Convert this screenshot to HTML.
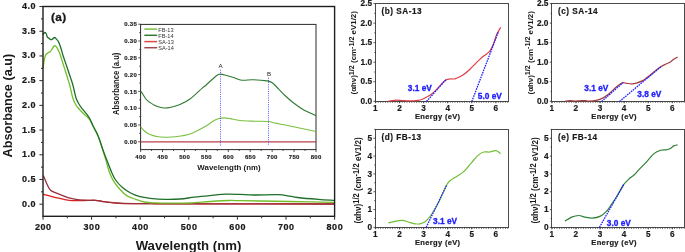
<!DOCTYPE html>
<html><head><meta charset="utf-8"><style>
html,body{margin:0;padding:0;background:#fff;}
body{width:685px;height:252px;overflow:hidden;}
svg{display:block;will-change:transform;}
text{font-family:"Liberation Sans",sans-serif;}
</style></head><body>
<svg width="685" height="252" viewBox="0 0 685 252">
<rect width="685" height="252" fill="#fff"/>
<g fill="none" stroke-width="1.3" stroke-linejoin="round" stroke-linecap="round">
<path d="M43.40,194.30 C44.55,194.60 47.75,195.45 50.30,196.10 C52.85,196.75 56.08,197.58 58.70,198.20 C61.32,198.82 63.78,199.40 66.00,199.80 C68.22,200.20 69.67,200.47 72.00,200.60 C74.33,200.73 77.33,200.63 80.00,200.60 C82.67,200.57 85.43,200.45 88.00,200.40 C90.57,200.35 93.07,200.15 95.40,200.30 C97.73,200.45 99.65,200.95 102.00,201.30 C104.35,201.65 106.60,202.07 109.50,202.40 C112.40,202.73 114.32,203.08 119.40,203.30 C124.48,203.52 126.57,203.60 140.00,203.70 C153.43,203.80 167.67,203.85 200.00,203.90 C232.33,203.95 311.67,203.98 334.00,204.00" stroke="#dc2020"/>
<path d="M43.40,175.80 C43.63,176.33 44.22,177.65 44.80,179.00 C45.38,180.35 46.22,182.40 46.90,183.90 C47.58,185.40 48.22,186.88 48.90,188.00 C49.58,189.12 49.83,189.78 51.00,190.60 C52.17,191.42 53.93,192.05 55.90,192.90 C57.87,193.75 60.45,194.83 62.80,195.70 C65.15,196.57 67.18,197.42 70.00,198.10 C72.82,198.78 76.70,199.42 79.70,199.80 C82.70,200.18 85.35,200.30 88.00,200.40 C90.65,200.50 93.27,200.25 95.60,200.40 C97.93,200.55 99.68,200.97 102.00,201.30 C104.32,201.63 105.95,202.07 109.50,202.40 C113.05,202.73 116.55,203.08 123.30,203.30 C130.05,203.52 137.22,203.60 150.00,203.70 C162.78,203.80 169.33,203.85 200.00,203.90 C230.67,203.95 311.67,203.98 334.00,204.00" stroke="#98303c"/>
<path d="M43.10,67.80 C43.27,66.63 43.70,62.88 44.10,60.80 C44.50,58.72 44.92,56.57 45.50,55.30 C46.08,54.03 46.80,53.85 47.60,53.20 C48.40,52.55 49.62,51.98 50.30,51.40 C50.98,50.82 51.12,50.55 51.70,49.70 C52.28,48.85 53.22,46.95 53.80,46.30 C54.38,45.65 54.67,45.58 55.20,45.80 C55.73,46.02 56.30,46.48 57.00,47.60 C57.70,48.72 58.80,51.10 59.40,52.50 C60.00,53.90 59.90,53.83 60.60,56.00 C61.30,58.17 62.60,62.33 63.60,65.50 C64.60,68.67 65.63,71.92 66.60,75.00 C67.57,78.08 68.65,81.33 69.40,84.00 C70.15,86.67 70.52,88.62 71.10,91.00 C71.68,93.38 72.22,96.17 72.90,98.30 C73.58,100.43 74.30,102.13 75.20,103.80 C76.10,105.47 76.60,106.37 78.30,108.30 C80.00,110.23 83.52,113.53 85.40,115.40 C87.28,117.27 88.37,117.78 89.60,119.50 C90.83,121.22 91.35,122.88 92.80,125.70 C94.25,128.52 96.80,132.85 98.30,136.40 C99.80,139.95 100.48,142.88 101.80,147.00 C103.12,151.12 104.93,156.90 106.20,161.10 C107.47,165.30 108.17,168.87 109.40,172.20 C110.63,175.53 111.75,178.13 113.60,181.10 C115.45,184.07 118.32,187.58 120.50,190.00 C122.68,192.42 124.18,194.05 126.70,195.60 C129.22,197.15 132.65,198.23 135.60,199.30 C138.55,200.37 141.17,201.40 144.40,202.00 C147.63,202.60 150.73,202.70 155.00,202.90 C159.27,203.10 164.17,203.18 170.00,203.20 C175.83,203.22 183.28,203.28 190.00,203.00 C196.72,202.72 203.72,201.92 210.30,201.50 C216.88,201.08 224.55,200.63 229.50,200.50 C234.45,200.37 234.92,200.62 240.00,200.70 C245.08,200.78 251.67,200.87 260.00,201.00 C268.33,201.13 277.75,201.27 290.00,201.50 C302.25,201.73 326.25,202.25 333.50,202.40" stroke="#72bf2a"/>
<path d="M43.00,34.00 C43.33,33.75 44.47,32.55 45.00,32.50 C45.53,32.45 45.80,32.90 46.20,33.70 C46.60,34.50 47.02,36.60 47.40,37.30 C47.78,38.00 47.92,37.50 48.50,37.90 C49.08,38.30 50.20,39.53 50.90,39.70 C51.60,39.87 52.10,39.27 52.70,38.90 C53.30,38.53 53.90,37.50 54.50,37.50 C55.10,37.50 55.60,38.13 56.30,38.90 C57.00,39.67 57.87,40.33 58.70,42.10 C59.53,43.87 60.55,47.18 61.30,49.50 C62.05,51.82 62.35,53.35 63.20,56.00 C64.05,58.65 65.33,62.23 66.40,65.40 C67.47,68.57 68.57,71.90 69.60,75.00 C70.63,78.10 71.82,81.33 72.60,84.00 C73.38,86.67 73.72,88.62 74.30,91.00 C74.88,93.38 75.38,96.22 76.10,98.30 C76.82,100.38 77.63,101.83 78.60,103.50 C79.57,105.17 80.40,106.32 81.90,108.30 C83.40,110.28 86.22,113.53 87.60,115.40 C88.98,117.27 89.30,117.78 90.20,119.50 C91.10,121.22 91.65,122.88 93.00,125.70 C94.35,128.52 96.63,132.35 98.30,136.40 C99.97,140.45 101.52,145.88 103.00,150.00 C104.48,154.12 105.77,157.40 107.20,161.10 C108.63,164.80 110.20,169.05 111.60,172.20 C113.00,175.35 113.83,177.48 115.60,180.00 C117.37,182.52 119.62,185.08 122.20,187.30 C124.78,189.52 128.13,191.73 131.10,193.30 C134.07,194.87 136.85,195.87 140.00,196.70 C143.15,197.53 145.78,197.85 150.00,198.30 C154.22,198.75 160.30,199.28 165.30,199.40 C170.30,199.52 175.18,199.37 180.00,199.00 C184.82,198.63 189.20,197.77 194.20,197.20 C199.20,196.63 204.65,196.10 210.00,195.60 C215.35,195.10 221.30,194.40 226.30,194.20 C231.30,194.00 235.38,194.27 240.00,194.40 C244.62,194.53 247.67,194.95 254.00,195.00 C260.33,195.05 272.00,194.50 278.00,194.70 C284.00,194.90 286.77,195.73 290.00,196.20 C293.23,196.67 292.68,196.97 297.40,197.50 C302.12,198.03 312.28,198.92 318.30,199.40 C324.32,199.88 330.97,200.23 333.50,200.40" stroke="#1f6f2a"/>
</g>
<rect x="43" y="6.5" width="291.6" height="209.8" fill="none" stroke="#1e1e1e" stroke-width="1.4"/>
<path d="M43,204.20h-3.6 M43,191.84h-2 M43,179.49h-3.6 M43,167.13h-2 M43,154.78h-3.6 M43,142.42h-2 M43,130.07h-3.6 M43,117.71h-2 M43,105.36h-3.6 M43,93.00h-2 M43,80.65h-3.6 M43,68.29h-2 M43,55.94h-3.6 M43,43.58h-2 M43,31.23h-3.6 M43,18.87h-2 M43,6.52h-3.6 M43.00,216.3v3.4 M67.30,216.3v2 M91.60,216.3v3.4 M115.90,216.3v2 M140.20,216.3v3.4 M164.50,216.3v2 M188.80,216.3v3.4 M213.10,216.3v2 M237.40,216.3v3.4 M261.70,216.3v2 M286.00,216.3v3.4 M310.30,216.3v2 M334.60,216.3v3.4" stroke="#2b2b2b" stroke-width="1"/>
<text x="36.1" y="206.70" font-family="Liberation Sans" font-weight="bold" font-size="9" letter-spacing="0.55" text-anchor="end" fill="#1a1a1a" stroke="#1a1a1a" stroke-width="0.22">0.0</text>
<text x="36.1" y="181.99" font-family="Liberation Sans" font-weight="bold" font-size="9" letter-spacing="0.55" text-anchor="end" fill="#1a1a1a" stroke="#1a1a1a" stroke-width="0.22">0.5</text>
<text x="36.1" y="157.28" font-family="Liberation Sans" font-weight="bold" font-size="9" letter-spacing="0.55" text-anchor="end" fill="#1a1a1a" stroke="#1a1a1a" stroke-width="0.22">1.0</text>
<text x="36.1" y="132.57" font-family="Liberation Sans" font-weight="bold" font-size="9" letter-spacing="0.55" text-anchor="end" fill="#1a1a1a" stroke="#1a1a1a" stroke-width="0.22">1.5</text>
<text x="36.1" y="107.86" font-family="Liberation Sans" font-weight="bold" font-size="9" letter-spacing="0.55" text-anchor="end" fill="#1a1a1a" stroke="#1a1a1a" stroke-width="0.22">2.0</text>
<text x="36.1" y="83.15" font-family="Liberation Sans" font-weight="bold" font-size="9" letter-spacing="0.55" text-anchor="end" fill="#1a1a1a" stroke="#1a1a1a" stroke-width="0.22">2.5</text>
<text x="36.1" y="58.44" font-family="Liberation Sans" font-weight="bold" font-size="9" letter-spacing="0.55" text-anchor="end" fill="#1a1a1a" stroke="#1a1a1a" stroke-width="0.22">3.0</text>
<text x="36.1" y="33.73" font-family="Liberation Sans" font-weight="bold" font-size="9" letter-spacing="0.55" text-anchor="end" fill="#1a1a1a" stroke="#1a1a1a" stroke-width="0.22">3.5</text>
<text x="36.1" y="9.02" font-family="Liberation Sans" font-weight="bold" font-size="9" letter-spacing="0.55" text-anchor="end" fill="#1a1a1a" stroke="#1a1a1a" stroke-width="0.22">4.0</text>
<text x="43.30" y="229.9" font-family="Liberation Sans" font-weight="bold" font-size="9" letter-spacing="0.6" text-anchor="middle" fill="#1a1a1a" stroke="#1a1a1a" stroke-width="0.22">200</text>
<text x="91.90" y="229.9" font-family="Liberation Sans" font-weight="bold" font-size="9" letter-spacing="0.6" text-anchor="middle" fill="#1a1a1a" stroke="#1a1a1a" stroke-width="0.22">300</text>
<text x="140.50" y="229.9" font-family="Liberation Sans" font-weight="bold" font-size="9" letter-spacing="0.6" text-anchor="middle" fill="#1a1a1a" stroke="#1a1a1a" stroke-width="0.22">400</text>
<text x="189.10" y="229.9" font-family="Liberation Sans" font-weight="bold" font-size="9" letter-spacing="0.6" text-anchor="middle" fill="#1a1a1a" stroke="#1a1a1a" stroke-width="0.22">500</text>
<text x="237.70" y="229.9" font-family="Liberation Sans" font-weight="bold" font-size="9" letter-spacing="0.6" text-anchor="middle" fill="#1a1a1a" stroke="#1a1a1a" stroke-width="0.22">600</text>
<text x="286.30" y="229.9" font-family="Liberation Sans" font-weight="bold" font-size="9" letter-spacing="0.6" text-anchor="middle" fill="#1a1a1a" stroke="#1a1a1a" stroke-width="0.22">700</text>
<text x="334.90" y="229.9" font-family="Liberation Sans" font-weight="bold" font-size="9" letter-spacing="0.6" text-anchor="middle" fill="#1a1a1a" stroke="#1a1a1a" stroke-width="0.22">800</text>
<text x="188.5" y="249.9" font-family="Liberation Sans" font-weight="bold" font-size="13.2" text-anchor="middle" fill="#1a1a1a">Wavelength (nm)</text>
<text transform="translate(11.7,105.6) rotate(-90)" font-family="Liberation Sans" font-weight="bold" font-size="12.7" text-anchor="middle" fill="#1a1a1a">Absorbance (a.u)</text>
<text x="51.1" y="21.0" font-family="Liberation Sans" font-weight="bold" font-size="11.8" letter-spacing="0.3" fill="#1a1a1a" stroke="#1a1a1a" stroke-width="0.3">(a)</text>
<rect x="140.6" y="24.4" width="175.4" height="125.19999999999999" fill="#fff" stroke="#2b2b2b" stroke-width="1"/>
<path d="M140.6,141.80h-2.4 M140.6,133.40h-1.4 M140.6,125.00h-2.4 M140.6,116.60h-1.4 M140.6,108.20h-2.4 M140.6,99.80h-1.4 M140.6,91.40h-2.4 M140.6,83.00h-1.4 M140.6,74.60h-2.4 M140.6,66.20h-1.4 M140.6,57.80h-2.4 M140.6,49.40h-1.4 M140.6,41.00h-2.4 M140.6,32.60h-1.4 M140.6,24.20h-2.4 M140.60,149.6v2.4 M151.56,149.6v1.4 M162.53,149.6v2.4 M173.49,149.6v1.4 M184.45,149.6v2.4 M195.41,149.6v1.4 M206.38,149.6v2.4 M217.34,149.6v1.4 M228.30,149.6v2.4 M239.26,149.6v1.4 M250.22,149.6v2.4 M261.19,149.6v1.4 M272.15,149.6v2.4 M283.11,149.6v1.4 M294.07,149.6v2.4 M305.04,149.6v1.4 M316.00,149.6v2.4" stroke="#2b2b2b" stroke-width="0.8"/>
<text x="137.1" y="143.90" font-family="Liberation Sans" font-weight="bold" font-size="6" letter-spacing="0.3" text-anchor="end" fill="#1a1a1a" stroke="#1a1a1a" stroke-width="0.15">0.00</text>
<text x="137.1" y="127.10" font-family="Liberation Sans" font-weight="bold" font-size="6" letter-spacing="0.3" text-anchor="end" fill="#1a1a1a" stroke="#1a1a1a" stroke-width="0.15">0.05</text>
<text x="137.1" y="110.30" font-family="Liberation Sans" font-weight="bold" font-size="6" letter-spacing="0.3" text-anchor="end" fill="#1a1a1a" stroke="#1a1a1a" stroke-width="0.15">0.10</text>
<text x="137.1" y="93.50" font-family="Liberation Sans" font-weight="bold" font-size="6" letter-spacing="0.3" text-anchor="end" fill="#1a1a1a" stroke="#1a1a1a" stroke-width="0.15">0.15</text>
<text x="137.1" y="76.70" font-family="Liberation Sans" font-weight="bold" font-size="6" letter-spacing="0.3" text-anchor="end" fill="#1a1a1a" stroke="#1a1a1a" stroke-width="0.15">0.20</text>
<text x="137.1" y="59.90" font-family="Liberation Sans" font-weight="bold" font-size="6" letter-spacing="0.3" text-anchor="end" fill="#1a1a1a" stroke="#1a1a1a" stroke-width="0.15">0.25</text>
<text x="137.1" y="43.10" font-family="Liberation Sans" font-weight="bold" font-size="6" letter-spacing="0.3" text-anchor="end" fill="#1a1a1a" stroke="#1a1a1a" stroke-width="0.15">0.30</text>
<text x="137.1" y="26.30" font-family="Liberation Sans" font-weight="bold" font-size="6" letter-spacing="0.3" text-anchor="end" fill="#1a1a1a" stroke="#1a1a1a" stroke-width="0.15">0.35</text>
<text x="140.75" y="158.9" font-family="Liberation Sans" font-weight="bold" font-size="6" letter-spacing="0.3" text-anchor="middle" fill="#1a1a1a" stroke="#1a1a1a" stroke-width="0.15">400</text>
<text x="162.68" y="158.9" font-family="Liberation Sans" font-weight="bold" font-size="6" letter-spacing="0.3" text-anchor="middle" fill="#1a1a1a" stroke="#1a1a1a" stroke-width="0.15">450</text>
<text x="184.60" y="158.9" font-family="Liberation Sans" font-weight="bold" font-size="6" letter-spacing="0.3" text-anchor="middle" fill="#1a1a1a" stroke="#1a1a1a" stroke-width="0.15">500</text>
<text x="206.53" y="158.9" font-family="Liberation Sans" font-weight="bold" font-size="6" letter-spacing="0.3" text-anchor="middle" fill="#1a1a1a" stroke="#1a1a1a" stroke-width="0.15">550</text>
<text x="228.45" y="158.9" font-family="Liberation Sans" font-weight="bold" font-size="6" letter-spacing="0.3" text-anchor="middle" fill="#1a1a1a" stroke="#1a1a1a" stroke-width="0.15">600</text>
<text x="250.38" y="158.9" font-family="Liberation Sans" font-weight="bold" font-size="6" letter-spacing="0.3" text-anchor="middle" fill="#1a1a1a" stroke="#1a1a1a" stroke-width="0.15">650</text>
<text x="272.30" y="158.9" font-family="Liberation Sans" font-weight="bold" font-size="6" letter-spacing="0.3" text-anchor="middle" fill="#1a1a1a" stroke="#1a1a1a" stroke-width="0.15">700</text>
<text x="294.22" y="158.9" font-family="Liberation Sans" font-weight="bold" font-size="6" letter-spacing="0.3" text-anchor="middle" fill="#1a1a1a" stroke="#1a1a1a" stroke-width="0.15">750</text>
<text x="316.15" y="158.9" font-family="Liberation Sans" font-weight="bold" font-size="6" letter-spacing="0.3" text-anchor="middle" fill="#1a1a1a" stroke="#1a1a1a" stroke-width="0.15">800</text>
<text x="229" y="169.8" font-family="Liberation Sans" font-weight="bold" font-size="7.9" text-anchor="middle" fill="#1a1a1a">Wavelength (nm)</text>
<text transform="translate(119.3,114.9) rotate(-90)" font-family="Liberation Sans" font-weight="bold" font-size="8.4" textLength="62.3" lengthAdjust="spacingAndGlyphs" fill="#1a1a1a">Absorbance (a.u)</text>
<g fill="none" stroke-width="1.1" stroke-linecap="round">
<path d="M141,141.8 L316,141.8" stroke="#b8424c" stroke-width="1.3"/>
<path d="M141.00,127.20 C141.67,127.92 143.50,130.28 145.00,131.50 C146.50,132.72 147.83,133.62 150.00,134.50 C152.17,135.38 155.37,136.35 158.00,136.80 C160.63,137.25 162.97,137.20 165.80,137.20 C168.63,137.20 170.97,137.33 175.00,136.80 C179.03,136.27 185.00,135.70 190.00,134.00 C195.00,132.30 201.17,128.73 205.00,126.60 C208.83,124.47 210.67,122.55 213.00,121.20 C215.33,119.85 217.17,119.05 219.00,118.50 C220.83,117.95 222.17,117.88 224.00,117.90 C225.83,117.92 227.33,118.17 230.00,118.60 C232.67,119.03 235.83,120.07 240.00,120.50 C244.17,120.93 250.33,121.03 255.00,121.20 C259.67,121.37 264.67,121.20 268.00,121.50 C271.33,121.80 271.33,122.25 275.00,123.00 C278.67,123.75 283.17,124.58 290.00,126.00 C296.83,127.42 311.67,130.58 316.00,131.50" stroke="#79c040"/>
<path d="M141.00,91.50 C141.33,92.00 142.25,93.33 143.00,94.50 C143.75,95.67 144.75,97.48 145.50,98.50 C146.25,99.52 146.75,99.93 147.50,100.60 C148.25,101.27 148.75,101.68 150.00,102.50 C151.25,103.32 153.33,104.70 155.00,105.50 C156.67,106.30 158.43,106.88 160.00,107.30 C161.57,107.72 162.73,107.97 164.40,108.00 C166.07,108.03 167.40,108.08 170.00,107.50 C172.60,106.92 176.67,105.92 180.00,104.50 C183.33,103.08 186.33,101.70 190.00,99.00 C193.67,96.30 199.50,90.47 202.00,88.30 C204.50,86.13 203.40,87.38 205.00,86.00 C206.60,84.62 209.27,81.95 211.60,80.00 C213.93,78.05 216.50,75.05 219.00,74.30 C221.50,73.55 224.07,74.93 226.60,75.50 C229.13,76.07 231.67,76.92 234.20,77.70 C236.73,78.48 238.62,79.85 241.80,80.20 C244.98,80.55 249.07,79.68 253.30,79.80 C257.53,79.92 264.03,80.40 267.20,80.90 C270.37,81.40 270.38,81.43 272.30,82.80 C274.22,84.17 276.58,86.98 278.70,89.10 C280.82,91.22 282.62,93.27 285.00,95.50 C287.38,97.73 290.00,100.17 293.00,102.50 C296.00,104.83 299.25,107.33 303.00,109.50 C306.75,111.67 313.42,114.50 315.50,115.50" stroke="#2f7a30"/>
</g>
<path d="M220.5,69.7V145.8 M268.5,77.7V144.7" stroke="#3030ff" stroke-width="0.8" stroke-dasharray="1,1.2" fill="none"/>
<text x="220.5" y="68.3" font-family="Liberation Sans" font-size="6.2" text-anchor="middle" fill="#222">A</text>
<text x="269" y="75.9" font-family="Liberation Sans" font-size="6.2" text-anchor="middle" fill="#222">B</text>
<path d="M144.3,29.1H157.2" stroke="#79c040" stroke-width="1.5"/>
<text x="158.3" y="31.5" font-family="Liberation Sans" font-size="5.6" fill="#333">FB-13</text>
<path d="M144.3,35.3H157.2" stroke="#2f7a30" stroke-width="1.5"/>
<text x="158.3" y="37.7" font-family="Liberation Sans" font-size="5.6" fill="#333">FB-14</text>
<path d="M144.3,41.6H157.2" stroke="#e04848" stroke-width="1.5"/>
<text x="158.3" y="44.0" font-family="Liberation Sans" font-size="5.6" fill="#333">SA-13</text>
<path d="M144.3,47.7H157.2" stroke="#a04850" stroke-width="1.5"/>
<text x="158.3" y="50.1" font-family="Liberation Sans" font-size="5.6" fill="#333">SA-14</text>
<rect x="375.4" y="3.5999999999999943" width="133.2" height="97.7" fill="none" stroke="#4a4a4a" stroke-width="1.1" shape-rendering="crispEdges"/>
<path d="M375.4,101.30h-2 M375.4,81.76h-2 M375.4,62.22h-2 M375.4,42.68h-2 M375.4,23.14h-2 M375.4,3.60h-2 M375.4,91.53h-1.2 M375.4,71.99h-1.2 M375.4,52.45h-1.2 M375.4,32.91h-1.2 M375.4,13.37h-1.2 M375.40,101.3v2 M399.50,101.3v2 M423.60,101.3v2 M447.70,101.3v2 M471.80,101.3v2 M495.90,101.3v2" stroke="#333" stroke-width="0.8"/>
<path d="M375.4,102.2H508.59999999999997" stroke="#333" stroke-width="1" stroke-dasharray="0.8,1.6"/>
<text x="372.10" y="103.90" font-family="Liberation Sans" font-weight="bold" font-size="8.3" text-anchor="end" fill="#1a1a1a" stroke="#1a1a1a" stroke-width="0.18">0.0</text>
<text x="372.10" y="84.36" font-family="Liberation Sans" font-weight="bold" font-size="8.3" text-anchor="end" fill="#1a1a1a" stroke="#1a1a1a" stroke-width="0.18">0.5</text>
<text x="372.10" y="64.82" font-family="Liberation Sans" font-weight="bold" font-size="8.3" text-anchor="end" fill="#1a1a1a" stroke="#1a1a1a" stroke-width="0.18">1.0</text>
<text x="372.10" y="45.28" font-family="Liberation Sans" font-weight="bold" font-size="8.3" text-anchor="end" fill="#1a1a1a" stroke="#1a1a1a" stroke-width="0.18">1.5</text>
<text x="372.10" y="25.74" font-family="Liberation Sans" font-weight="bold" font-size="8.3" text-anchor="end" fill="#1a1a1a" stroke="#1a1a1a" stroke-width="0.18">2.0</text>
<text x="372.10" y="6.20" font-family="Liberation Sans" font-weight="bold" font-size="8.3" text-anchor="end" fill="#1a1a1a" stroke="#1a1a1a" stroke-width="0.18">2.5</text>
<text x="375.40" y="110.70" font-family="Liberation Sans" font-weight="bold" font-size="8.2" text-anchor="middle" fill="#1a1a1a" stroke="#1a1a1a" stroke-width="0.18">1</text>
<text x="399.50" y="110.70" font-family="Liberation Sans" font-weight="bold" font-size="8.2" text-anchor="middle" fill="#1a1a1a" stroke="#1a1a1a" stroke-width="0.18">2</text>
<text x="423.60" y="110.70" font-family="Liberation Sans" font-weight="bold" font-size="8.2" text-anchor="middle" fill="#1a1a1a" stroke="#1a1a1a" stroke-width="0.18">3</text>
<text x="447.70" y="110.70" font-family="Liberation Sans" font-weight="bold" font-size="8.2" text-anchor="middle" fill="#1a1a1a" stroke="#1a1a1a" stroke-width="0.18">4</text>
<text x="471.80" y="110.70" font-family="Liberation Sans" font-weight="bold" font-size="8.2" text-anchor="middle" fill="#1a1a1a" stroke="#1a1a1a" stroke-width="0.18">5</text>
<text x="495.90" y="110.70" font-family="Liberation Sans" font-weight="bold" font-size="8.2" text-anchor="middle" fill="#1a1a1a" stroke="#1a1a1a" stroke-width="0.18">6</text>
<text x="437.70" y="119.30" font-family="Liberation Sans" font-weight="bold" font-size="7.5" letter-spacing="0.35" text-anchor="middle" fill="#1a1a1a" stroke="#1a1a1a" stroke-width="0.2">Energy (eV)</text>
<text x="381.60" y="14.10" font-family="Liberation Sans" font-weight="bold" font-size="8.2" letter-spacing="0.5" fill="#1a1a1a" stroke="#1a1a1a" stroke-width="0.2">(b) SA-13</text>
<text transform="translate(355.80,94.50) rotate(-90)" font-family="Liberation Sans" font-weight="bold" font-size="7.8" textLength="83.4" lengthAdjust="spacingAndGlyphs" fill="#1a1a1a">(&#945;h&#957;)<tspan font-size="7.02" dy="-2.11">1/2</tspan><tspan dy="2.11"> (cm</tspan><tspan font-size="7.02" dy="-2.11">-1/2</tspan><tspan dy="2.11"> eV1/2)</tspan></text>
<path d="M388.30,101.20 C388.92,101.10 390.60,100.77 392.00,100.60 C393.40,100.43 395.03,100.22 396.70,100.20 C398.37,100.18 399.87,100.40 402.00,100.50 C404.13,100.60 407.17,100.78 409.50,100.80 C411.83,100.82 414.25,100.73 416.00,100.60 C417.75,100.47 418.75,100.30 420.00,100.00 C421.25,99.70 422.43,99.27 423.50,98.80 C424.57,98.33 425.13,97.92 426.40,97.20 C427.67,96.48 429.38,95.80 431.10,94.50 C432.82,93.20 434.85,91.28 436.70,89.40 C438.55,87.52 440.58,84.82 442.20,83.20 C443.82,81.58 445.10,80.40 446.40,79.70 C447.70,79.00 448.57,79.15 450.00,79.00 C451.43,78.85 453.35,79.17 455.00,78.80 C456.65,78.43 458.40,77.55 459.90,76.80 C461.40,76.05 462.32,75.57 464.00,74.30 C465.68,73.03 468.25,70.82 470.00,69.20 C471.75,67.58 472.87,66.23 474.50,64.60 C476.13,62.97 478.22,60.88 479.80,59.40 C481.38,57.92 482.53,56.87 484.00,55.70 C485.47,54.53 487.47,53.42 488.60,52.40 C489.73,51.38 489.93,51.17 490.80,49.60 C491.67,48.03 492.82,45.53 493.80,43.00 C494.78,40.47 495.53,37.02 496.70,34.40 C497.87,31.78 500.12,28.48 500.80,27.30" fill="none" stroke="#df3c44" stroke-width="1.2" stroke-linejoin="round"/>
<path d="M426.5,101.5L446,79.6" stroke="#1e1eff" stroke-width="1.3" stroke-dasharray="1.6,0.9" fill="none"/>
<path d="M471.8,101.5L498.5,31.5" stroke="#1e1eff" stroke-width="1.3" stroke-dasharray="1.6,0.9" fill="none"/>
<text x="407.8" y="90.8" font-family="Liberation Sans" font-weight="bold" font-size="8.3" fill="#2020ff" stroke="#2020ff" stroke-width="0.3">3.1 eV</text>
<text x="477.8" y="99" font-family="Liberation Sans" font-weight="bold" font-size="8.3" fill="#2020ff" stroke="#2020ff" stroke-width="0.3">5.0 eV</text>
<rect x="551.8" y="3.5999999999999943" width="133.20000000000005" height="97.7" fill="none" stroke="#4a4a4a" stroke-width="1.1" shape-rendering="crispEdges"/>
<path d="M551.8,101.30h-2 M551.8,81.76h-2 M551.8,62.22h-2 M551.8,42.68h-2 M551.8,23.14h-2 M551.8,3.60h-2 M551.8,91.53h-1.2 M551.8,71.99h-1.2 M551.8,52.45h-1.2 M551.8,32.91h-1.2 M551.8,13.37h-1.2 M551.80,101.3v2 M575.90,101.3v2 M600.00,101.3v2 M624.10,101.3v2 M648.20,101.3v2 M672.30,101.3v2" stroke="#333" stroke-width="0.8"/>
<path d="M551.8,102.2H685.0" stroke="#333" stroke-width="1" stroke-dasharray="0.8,1.6"/>
<text x="548.50" y="103.90" font-family="Liberation Sans" font-weight="bold" font-size="8.3" text-anchor="end" fill="#1a1a1a" stroke="#1a1a1a" stroke-width="0.18">0.0</text>
<text x="548.50" y="84.36" font-family="Liberation Sans" font-weight="bold" font-size="8.3" text-anchor="end" fill="#1a1a1a" stroke="#1a1a1a" stroke-width="0.18">0.5</text>
<text x="548.50" y="64.82" font-family="Liberation Sans" font-weight="bold" font-size="8.3" text-anchor="end" fill="#1a1a1a" stroke="#1a1a1a" stroke-width="0.18">1.0</text>
<text x="548.50" y="45.28" font-family="Liberation Sans" font-weight="bold" font-size="8.3" text-anchor="end" fill="#1a1a1a" stroke="#1a1a1a" stroke-width="0.18">1.5</text>
<text x="548.50" y="25.74" font-family="Liberation Sans" font-weight="bold" font-size="8.3" text-anchor="end" fill="#1a1a1a" stroke="#1a1a1a" stroke-width="0.18">2.0</text>
<text x="548.50" y="6.20" font-family="Liberation Sans" font-weight="bold" font-size="8.3" text-anchor="end" fill="#1a1a1a" stroke="#1a1a1a" stroke-width="0.18">2.5</text>
<text x="551.80" y="110.70" font-family="Liberation Sans" font-weight="bold" font-size="8.2" text-anchor="middle" fill="#1a1a1a" stroke="#1a1a1a" stroke-width="0.18">1</text>
<text x="575.90" y="110.70" font-family="Liberation Sans" font-weight="bold" font-size="8.2" text-anchor="middle" fill="#1a1a1a" stroke="#1a1a1a" stroke-width="0.18">2</text>
<text x="600.00" y="110.70" font-family="Liberation Sans" font-weight="bold" font-size="8.2" text-anchor="middle" fill="#1a1a1a" stroke="#1a1a1a" stroke-width="0.18">3</text>
<text x="624.10" y="110.70" font-family="Liberation Sans" font-weight="bold" font-size="8.2" text-anchor="middle" fill="#1a1a1a" stroke="#1a1a1a" stroke-width="0.18">4</text>
<text x="648.20" y="110.70" font-family="Liberation Sans" font-weight="bold" font-size="8.2" text-anchor="middle" fill="#1a1a1a" stroke="#1a1a1a" stroke-width="0.18">5</text>
<text x="672.30" y="110.70" font-family="Liberation Sans" font-weight="bold" font-size="8.2" text-anchor="middle" fill="#1a1a1a" stroke="#1a1a1a" stroke-width="0.18">6</text>
<text x="614.10" y="119.30" font-family="Liberation Sans" font-weight="bold" font-size="7.5" letter-spacing="0.35" text-anchor="middle" fill="#1a1a1a" stroke="#1a1a1a" stroke-width="0.2">Energy (eV)</text>
<text x="558.00" y="14.10" font-family="Liberation Sans" font-weight="bold" font-size="8.2" letter-spacing="0.5" fill="#1a1a1a" stroke="#1a1a1a" stroke-width="0.2">(c) SA-14</text>
<text transform="translate(532.50,94.50) rotate(-90)" font-family="Liberation Sans" font-weight="bold" font-size="7.8" textLength="83.4" lengthAdjust="spacingAndGlyphs" fill="#1a1a1a">(&#945;h&#957;)<tspan font-size="7.02" dy="-2.11">1/2</tspan><tspan dy="2.11"> (cm</tspan><tspan font-size="7.02" dy="-2.11">-1/2</tspan><tspan dy="2.11"> eV1/2)</tspan></text>
<path d="M565.30,101.20 C566.08,101.10 568.38,100.63 570.00,100.60 C571.62,100.57 573.33,100.97 575.00,101.00 C576.67,101.03 578.33,100.87 580.00,100.80 C581.67,100.73 583.67,100.57 585.00,100.60 C586.33,100.63 586.67,100.95 588.00,101.00 C589.33,101.05 591.50,101.03 593.00,100.90 C594.50,100.77 595.67,100.53 597.00,100.20 C598.33,99.87 599.75,99.43 601.00,98.90 C602.25,98.37 603.25,97.78 604.50,97.00 C605.75,96.22 607.08,95.35 608.50,94.20 C609.92,93.05 611.50,91.47 613.00,90.10 C614.50,88.73 616.17,87.12 617.50,86.00 C618.83,84.88 620.03,83.95 621.00,83.40 C621.97,82.85 622.30,82.70 623.30,82.70 C624.30,82.70 625.58,83.22 627.00,83.40 C628.42,83.58 630.13,83.90 631.80,83.80 C633.47,83.70 635.17,83.33 637.00,82.80 C638.83,82.27 641.13,81.47 642.80,80.60 C644.47,79.73 645.55,78.70 647.00,77.60 C648.45,76.50 650.00,75.23 651.50,74.00 C653.00,72.77 654.37,71.47 656.00,70.20 C657.63,68.93 659.63,67.43 661.30,66.40 C662.97,65.37 664.48,64.75 666.00,64.00 C667.52,63.25 669.12,62.68 670.40,61.90 C671.68,61.12 672.50,60.10 673.70,59.30 C674.90,58.50 676.95,57.47 677.60,57.10" fill="none" stroke="#a83a3c" stroke-width="1.2" stroke-linejoin="round"/>
<path d="M601.6,101.5L623,82.8" stroke="#1e1eff" stroke-width="1.3" stroke-dasharray="1.6,0.9" fill="none"/>
<path d="M619.5,101.5L661.3,66.4" stroke="#1e1eff" stroke-width="1.3" stroke-dasharray="1.6,0.9" fill="none"/>
<text x="584.3" y="91" font-family="Liberation Sans" font-weight="bold" font-size="8.3" fill="#2020ff" stroke="#2020ff" stroke-width="0.3">3.1 eV</text>
<text x="637.3" y="97" font-family="Liberation Sans" font-weight="bold" font-size="8.3" fill="#2020ff" stroke="#2020ff" stroke-width="0.3">3.8 eV</text>
<rect x="375.4" y="129.7" width="133.2" height="97.70000000000002" fill="none" stroke="#4a4a4a" stroke-width="1.1" shape-rendering="crispEdges"/>
<path d="M375.4,227.40h-2 M375.4,209.57h-2 M375.4,191.74h-2 M375.4,173.91h-2 M375.4,156.09h-2 M375.4,138.26h-2 M375.4,218.49h-1.2 M375.4,200.66h-1.2 M375.4,182.83h-1.2 M375.4,165.00h-1.2 M375.4,147.17h-1.2 M375.4,129.34h-1.2 M375.40,227.4v2 M399.50,227.4v2 M423.60,227.4v2 M447.70,227.4v2 M471.80,227.4v2 M495.90,227.4v2" stroke="#333" stroke-width="0.8"/>
<path d="M375.4,228.3H508.59999999999997" stroke="#333" stroke-width="1" stroke-dasharray="0.8,1.6"/>
<text x="372.10" y="230.00" font-family="Liberation Sans" font-weight="bold" font-size="8.3" text-anchor="end" fill="#1a1a1a" stroke="#1a1a1a" stroke-width="0.18">0</text>
<text x="372.10" y="212.17" font-family="Liberation Sans" font-weight="bold" font-size="8.3" text-anchor="end" fill="#1a1a1a" stroke="#1a1a1a" stroke-width="0.18">1</text>
<text x="372.10" y="194.34" font-family="Liberation Sans" font-weight="bold" font-size="8.3" text-anchor="end" fill="#1a1a1a" stroke="#1a1a1a" stroke-width="0.18">2</text>
<text x="372.10" y="176.51" font-family="Liberation Sans" font-weight="bold" font-size="8.3" text-anchor="end" fill="#1a1a1a" stroke="#1a1a1a" stroke-width="0.18">3</text>
<text x="372.10" y="158.69" font-family="Liberation Sans" font-weight="bold" font-size="8.3" text-anchor="end" fill="#1a1a1a" stroke="#1a1a1a" stroke-width="0.18">4</text>
<text x="372.10" y="140.86" font-family="Liberation Sans" font-weight="bold" font-size="8.3" text-anchor="end" fill="#1a1a1a" stroke="#1a1a1a" stroke-width="0.18">5</text>
<text x="375.40" y="236.80" font-family="Liberation Sans" font-weight="bold" font-size="8.2" text-anchor="middle" fill="#1a1a1a" stroke="#1a1a1a" stroke-width="0.18">1</text>
<text x="399.50" y="236.80" font-family="Liberation Sans" font-weight="bold" font-size="8.2" text-anchor="middle" fill="#1a1a1a" stroke="#1a1a1a" stroke-width="0.18">2</text>
<text x="423.60" y="236.80" font-family="Liberation Sans" font-weight="bold" font-size="8.2" text-anchor="middle" fill="#1a1a1a" stroke="#1a1a1a" stroke-width="0.18">3</text>
<text x="447.70" y="236.80" font-family="Liberation Sans" font-weight="bold" font-size="8.2" text-anchor="middle" fill="#1a1a1a" stroke="#1a1a1a" stroke-width="0.18">4</text>
<text x="471.80" y="236.80" font-family="Liberation Sans" font-weight="bold" font-size="8.2" text-anchor="middle" fill="#1a1a1a" stroke="#1a1a1a" stroke-width="0.18">5</text>
<text x="495.90" y="236.80" font-family="Liberation Sans" font-weight="bold" font-size="8.2" text-anchor="middle" fill="#1a1a1a" stroke="#1a1a1a" stroke-width="0.18">6</text>
<text x="437.70" y="245.40" font-family="Liberation Sans" font-weight="bold" font-size="7.5" letter-spacing="0.35" text-anchor="middle" fill="#1a1a1a" stroke="#1a1a1a" stroke-width="0.2">Energy (eV)</text>
<text x="381.60" y="140.20" font-family="Liberation Sans" font-weight="bold" font-size="8.2" letter-spacing="0.5" fill="#1a1a1a" stroke="#1a1a1a" stroke-width="0.2">(d) FB-13</text>
<text transform="translate(360.60,223.60) rotate(-90)" font-family="Liberation Sans" font-weight="bold" font-size="9.0" textLength="86.4" lengthAdjust="spacingAndGlyphs" fill="#1a1a1a">(&#945;h&#957;)<tspan font-size="8.55" dy="-1.98">1/2</tspan><tspan dy="1.98"> (cm</tspan><tspan font-size="8.55" dy="-1.98">-1/2</tspan><tspan dy="1.98"> eV1/2)</tspan></text>
<path d="M388.30,223.00 C389.42,222.72 392.63,221.75 395.00,221.30 C397.37,220.85 400.28,220.18 402.50,220.30 C404.72,220.42 406.22,221.42 408.30,222.00 C410.38,222.58 413.05,223.50 415.00,223.80 C416.95,224.10 418.33,224.15 420.00,223.80 C421.67,223.45 423.33,222.88 425.00,221.70 C426.67,220.52 428.38,218.78 430.00,216.70 C431.62,214.62 433.35,211.38 434.70,209.20 C436.05,207.02 436.88,205.97 438.10,203.60 C439.32,201.23 440.55,198.13 442.00,195.00 C443.45,191.87 445.47,187.17 446.80,184.80 C448.13,182.43 448.37,182.18 450.00,180.80 C451.63,179.42 454.42,177.95 456.60,176.50 C458.78,175.05 461.28,173.60 463.10,172.10 C464.92,170.60 466.05,169.13 467.50,167.50 C468.95,165.87 469.98,164.37 471.80,162.30 C473.62,160.23 476.40,156.82 478.40,155.10 C480.40,153.38 481.98,152.52 483.80,152.00 C485.62,151.48 487.28,152.22 489.30,152.00 C491.32,151.78 494.00,150.43 495.90,150.70 C497.80,150.97 499.90,153.12 500.70,153.60" fill="none" stroke="#6fbe35" stroke-width="1.2" stroke-linejoin="round"/>
<path d="M426.1,227.4L446.8,184.8" stroke="#1e1eff" stroke-width="1.3" stroke-dasharray="1.6,0.9" fill="none"/>
<text x="433.1" y="223.5" font-family="Liberation Sans" font-weight="bold" font-size="8.3" fill="#2020ff" stroke="#2020ff" stroke-width="0.3">3.1 eV</text>
<rect x="551.8" y="129.7" width="133.20000000000005" height="97.70000000000002" fill="none" stroke="#4a4a4a" stroke-width="1.1" shape-rendering="crispEdges"/>
<path d="M551.8,227.40h-2 M551.8,209.57h-2 M551.8,191.74h-2 M551.8,173.91h-2 M551.8,156.09h-2 M551.8,138.26h-2 M551.8,218.49h-1.2 M551.8,200.66h-1.2 M551.8,182.83h-1.2 M551.8,165.00h-1.2 M551.8,147.17h-1.2 M551.8,129.34h-1.2 M551.80,227.4v2 M575.90,227.4v2 M600.00,227.4v2 M624.10,227.4v2 M648.20,227.4v2 M672.30,227.4v2" stroke="#333" stroke-width="0.8"/>
<path d="M551.8,228.3H685.0" stroke="#333" stroke-width="1" stroke-dasharray="0.8,1.6"/>
<text x="548.50" y="230.00" font-family="Liberation Sans" font-weight="bold" font-size="8.3" text-anchor="end" fill="#1a1a1a" stroke="#1a1a1a" stroke-width="0.18">0</text>
<text x="548.50" y="212.17" font-family="Liberation Sans" font-weight="bold" font-size="8.3" text-anchor="end" fill="#1a1a1a" stroke="#1a1a1a" stroke-width="0.18">1</text>
<text x="548.50" y="194.34" font-family="Liberation Sans" font-weight="bold" font-size="8.3" text-anchor="end" fill="#1a1a1a" stroke="#1a1a1a" stroke-width="0.18">2</text>
<text x="548.50" y="176.51" font-family="Liberation Sans" font-weight="bold" font-size="8.3" text-anchor="end" fill="#1a1a1a" stroke="#1a1a1a" stroke-width="0.18">3</text>
<text x="548.50" y="158.69" font-family="Liberation Sans" font-weight="bold" font-size="8.3" text-anchor="end" fill="#1a1a1a" stroke="#1a1a1a" stroke-width="0.18">4</text>
<text x="548.50" y="140.86" font-family="Liberation Sans" font-weight="bold" font-size="8.3" text-anchor="end" fill="#1a1a1a" stroke="#1a1a1a" stroke-width="0.18">5</text>
<text x="551.80" y="236.80" font-family="Liberation Sans" font-weight="bold" font-size="8.2" text-anchor="middle" fill="#1a1a1a" stroke="#1a1a1a" stroke-width="0.18">1</text>
<text x="575.90" y="236.80" font-family="Liberation Sans" font-weight="bold" font-size="8.2" text-anchor="middle" fill="#1a1a1a" stroke="#1a1a1a" stroke-width="0.18">2</text>
<text x="600.00" y="236.80" font-family="Liberation Sans" font-weight="bold" font-size="8.2" text-anchor="middle" fill="#1a1a1a" stroke="#1a1a1a" stroke-width="0.18">3</text>
<text x="624.10" y="236.80" font-family="Liberation Sans" font-weight="bold" font-size="8.2" text-anchor="middle" fill="#1a1a1a" stroke="#1a1a1a" stroke-width="0.18">4</text>
<text x="648.20" y="236.80" font-family="Liberation Sans" font-weight="bold" font-size="8.2" text-anchor="middle" fill="#1a1a1a" stroke="#1a1a1a" stroke-width="0.18">5</text>
<text x="672.30" y="236.80" font-family="Liberation Sans" font-weight="bold" font-size="8.2" text-anchor="middle" fill="#1a1a1a" stroke="#1a1a1a" stroke-width="0.18">6</text>
<text x="614.10" y="245.40" font-family="Liberation Sans" font-weight="bold" font-size="7.5" letter-spacing="0.35" text-anchor="middle" fill="#1a1a1a" stroke="#1a1a1a" stroke-width="0.2">Energy (eV)</text>
<text x="558.00" y="140.20" font-family="Liberation Sans" font-weight="bold" font-size="8.2" letter-spacing="0.5" fill="#1a1a1a" stroke="#1a1a1a" stroke-width="0.2">(e) FB-14</text>
<text transform="translate(538.00,223.60) rotate(-90)" font-family="Liberation Sans" font-weight="bold" font-size="9.0" textLength="86.4" lengthAdjust="spacingAndGlyphs" fill="#1a1a1a">(&#945;h&#957;)<tspan font-size="8.55" dy="-1.98">1/2</tspan><tspan dy="1.98"> (cm</tspan><tspan font-size="8.55" dy="-1.98">-1/2</tspan><tspan dy="1.98"> eV1/2)</tspan></text>
<path d="M565.00,221.20 C566.10,220.52 569.30,218.05 571.60,217.10 C573.90,216.15 576.57,215.50 578.80,215.50 C581.03,215.50 582.77,216.67 585.00,217.10 C587.23,217.53 589.62,218.27 592.20,218.10 C594.78,217.93 598.08,217.28 600.50,216.10 C602.92,214.92 605.03,212.72 606.70,211.00 C608.37,209.28 608.72,208.38 610.50,205.80 C612.28,203.22 615.23,199.00 617.40,195.50 C619.57,192.00 621.45,187.67 623.50,184.80 C625.55,181.93 627.95,179.93 629.70,178.30 C631.45,176.67 632.50,176.40 634.00,175.00 C635.50,173.60 636.45,172.27 638.70,169.90 C640.95,167.53 644.95,163.52 647.50,160.80 C650.05,158.08 651.82,155.35 654.00,153.60 C656.18,151.85 658.60,150.93 660.60,150.30 C662.60,149.67 664.37,150.10 666.00,149.80 C667.63,149.50 669.12,149.15 670.40,148.50 C671.68,147.85 672.50,146.52 673.70,145.90 C674.90,145.28 676.95,144.98 677.60,144.80" fill="none" stroke="#2f8233" stroke-width="1.2" stroke-linejoin="round"/>
<path d="M599.4,227.4L623.8,184.3" stroke="#1e1eff" stroke-width="1.3" stroke-dasharray="1.6,0.9" fill="none"/>
<text x="606.8" y="225.6" font-family="Liberation Sans" font-weight="bold" font-size="8.3" fill="#2020ff" stroke="#2020ff" stroke-width="0.3">3.0 eV</text>
</svg>
</body></html>
